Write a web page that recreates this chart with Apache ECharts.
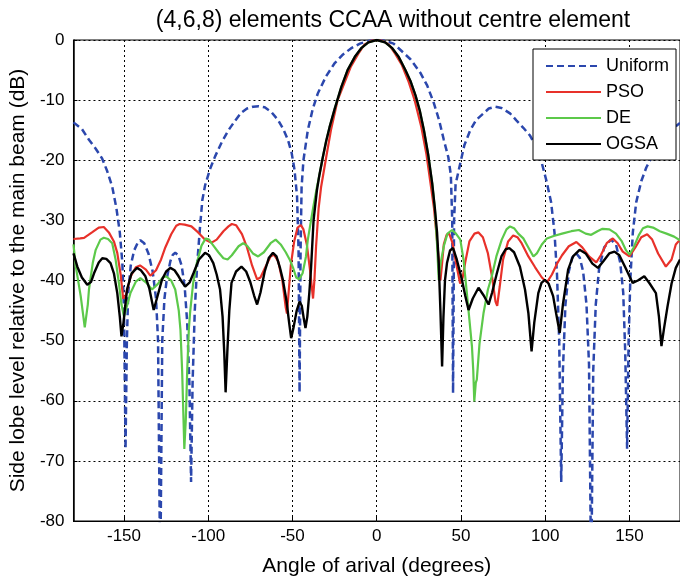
<!DOCTYPE html>
<html>
<head>
<meta charset="utf-8">
<script src="https://cdn.jsdelivr.net/npm/echarts@6/dist/echarts.min.js"></script>
<style>
html,body{margin:0;padding:0;background:#fff;}
#chart{width:680px;height:582px;}
</style>
</head>
<body>
<div id="chart"></div>
<script>
var titleText = '(4,6,8) elements CCAA without centre element';
var xName = 'Angle of arival (degrees)';
var yName = 'Side lobe level relative to the main beam (dB)';
var xTicks = [-150, -100, -50, 0, 50, 100, 150];
var seriesNames = ['Uniform', 'PSO', 'DE', 'OGSA'];

var uniformAngle = [-180,-175,-170.8,-167,-163,-160,-157,-154.5,-152.5,-151,-150,-149.1,-148.3,-147.5,-146,-144,-142,-140.3,-138,-135.5,-133,-131,-129.8,-128.5,-127.3,-126,-124.5,-122.5,-121,-119.6,-117.8,-115.8,-114,-112.5,-111.2,-110.2,-109.3,-108,-106.5,-105,-103.5,-101.9,-99,-96,-92,-88,-84,-80.5,-77,-73.4,-70,-66.5,-62.5,-58.6,-55.5,-52.7,-50.5,-48.8,-47.3,-46.4,-45.8,-45.2,-44.6,-43.5,-40.9,-38,-35,-30,-25.1,-20,-15.3,-10,-5,0,5,10,16.2,20,26,30,33.9,37,39.8,42.5,44,44.8,45.3,45.9,46.8,49.6,52,55.5,59,63.4,66.5,70.2,74,79.1,83,87,91,95,98,100.8,103.5,105.5,107,108.3,109.5,110.5,112,114,116,118.5,120.5,122.5,124.5,126,127.3,128.5,130,132,135,139,142,144.5,146.3,147.5,148.6,149.5,150.5,152,154,157,160,165,170,175,180];
var uniformDb = [-13.7,-14.8,-16.6,-18,-19.7,-21.8,-24.4,-28,-32,-37,-45,-68,-50,-42,-37.5,-35,-33.8,-33.3,-33.8,-35.5,-38.5,-43,-50,-90,-50,-43,-39.5,-36.8,-35.7,-35.4,-35.8,-37.5,-41,-47,-57,-73.5,-57,-45,-37,-31.5,-26.6,-24.2,-21.5,-19.4,-17,-15,-13.4,-12.1,-11.4,-11.1,-11,-11.2,-12,-13.3,-14.8,-16.6,-18.8,-21.6,-26,-35,-58.6,-35,-24.5,-20,-15,-11.5,-8.9,-6,-3.9,-2.4,-1.4,-0.6,-0.15,0,-0.15,-0.6,-2.2,-3.2,-5.5,-7.6,-10.5,-13.3,-16.6,-19.5,-22.5,-30,-58.7,-30,-24,-20.5,-17.5,-15,-13.3,-12.2,-11.4,-11.1,-11.3,-12.2,-13.4,-14.6,-15.9,-18,-20.5,-23.5,-27,-32,-39,-50,-73.5,-55,-44,-38.5,-36.2,-35.5,-36.2,-38.5,-44,-54,-90,-55,-44,-38,-34.5,-33.2,-34,-37,-42,-52,-68,-50,-40,-32,-27,-23.5,-21.2,-18.5,-16.4,-14.9,-13.8];

var psoAngle = [-180,-176,-173.7,-169,-165,-162,-159,-156,-154,-152,-150.5,-149,-146,-143,-140.5,-137,-134.4,-131,-128,-125.5,-122,-119,-117,-114,-110,-106,-102,-98,-95,-91,-88,-86,-83.5,-80,-77,-74,-71,-69,-66.5,-63,-61,-58.5,-56,-54,-53.3,-52.3,-51,-49,-47,-45,-43.5,-41.5,-39.5,-37.8,-37,-36,-34.5,-33,-30,-27.2,-23.2,-19,-15.3,-11,-7.4,-3.5,0,3.5,7.4,11,15,19,22.5,26.5,29.5,31.9,34,35.5,36.8,37.8,38.5,39.8,41.5,43,45,47,49.5,51,52.5,55,58,60.4,63,66,68.5,70.5,71.5,73,75,78,81,83.5,86,90,94,98,101,104,107,110,114,118.5,122,126,130.3,133,136.5,140.1,143,146,150,153.5,157,160.5,163.5,167,171.6,175,177.5,180];
var psoDb = [-33.1,-33,-32.9,-32,-31.2,-31.1,-32,-33.5,-35.4,-39,-43,-42.5,-39.3,-37.8,-37.5,-38.2,-39.2,-38.3,-36.5,-34.5,-32.3,-30.9,-30.6,-30.7,-31,-32,-33.2,-33.7,-33.2,-31.8,-31,-30.6,-30.8,-32.3,-34.5,-37.5,-39.8,-39.5,-38,-36,-35.7,-36.8,-40,-44.5,-45.5,-42,-37.5,-33.5,-31.2,-30.8,-31.5,-34,-38.5,-43,-40,-34.3,-28,-24.4,-19.5,-15,-10,-7,-4.4,-2.3,-0.8,-0.15,0,-0.15,-0.8,-2.3,-4.2,-7,-10,-14.5,-19,-23.8,-28,-32.5,-36.5,-40,-38,-34,-32.4,-32.2,-33.8,-37,-40.5,-39.5,-37,-33.5,-32.2,-32,-32.8,-35.5,-39.5,-43.5,-44.2,-41,-36.5,-33.5,-32.5,-32.8,-33.8,-36,-37.8,-39.5,-40.3,-39,-37.2,-35.8,-34.3,-33.6,-34.5,-36,-37,-35.8,-33.8,-33,-33.8,-35.2,-36,-34.5,-32.8,-32.3,-33.2,-35.5,-37.7,-36.5,-34,-33.2];

var deAngle = [-180,-178.6,-175.7,-173.3,-171.5,-170.8,-168.5,-166.8,-164,-162,-159.5,-157,-155,-153,-151.5,-150,-148.5,-146.2,-143,-140.3,-137,-133.4,-130,-127,-125,-122,-119.6,-117.5,-116.5,-115.5,-114.7,-114.2,-113.3,-112.5,-111.5,-110.8,-109,-106.8,-104,-101.5,-99.5,-97.5,-94,-91,-88.5,-86,-82,-79.3,-77,-73.5,-70.4,-67,-63,-60,-57,-54,-51.7,-49.5,-47.8,-46,-44,-42,-40.9,-39,-37.5,-35.5,-34,-32,-30,-28,-25,-21,-17.3,-13,-9,-5,0,5,9,13,17,20,23,25.5,28,30.5,32.9,34.5,35.8,36.8,38,39.8,42,44.7,47,49.6,51.5,53.5,55,56.5,57.3,57.9,58.8,59.4,61,63.4,66,68.3,71,74.2,77,79.1,81.5,84,87,90,93,95,98,101,105,110,115.5,120,124,127.3,131,134,138.1,142,145.5,148,150,152.5,155.5,158,160.8,164,168,172,176.5,180];
var deDb = [-34,-37.7,-42.6,-47.8,-44,-41.5,-37,-34.9,-33.2,-32.9,-33.1,-33.8,-36.5,-40.5,-44,-46,-44.5,-42.1,-40.2,-39.6,-40.3,-41.5,-40.6,-39.5,-39.3,-40,-41.5,-45,-48.2,-55,-63,-68,-63,-55,-48,-45.4,-40.5,-37.1,-34.2,-33,-33.2,-34,-35.3,-36.3,-36.5,-35.8,-34.3,-33.8,-34.2,-35.5,-36,-35.3,-33.8,-33.2,-34,-35.3,-36.5,-38,-39.5,-39.8,-38.8,-36,-33.2,-30,-27.5,-24.5,-22.4,-19.5,-16.8,-14.5,-11.5,-7.8,-5,-2.8,-1.3,-0.4,0,-0.4,-1.3,-2.8,-5,-6.8,-9.2,-11.7,-15,-19,-23.8,-28,-34,-39.9,-37,-34.3,-32.2,-31.6,-32.2,-33.2,-36.5,-42.1,-46.5,-50.9,-55,-60.1,-57,-56.5,-50.5,-45.4,-41.5,-39.3,-36,-33.2,-31.5,-31,-31.3,-32.2,-33,-34.5,-36,-35.5,-34,-33,-32.6,-32.2,-31.8,-31.6,-32.2,-32.4,-31.8,-31.4,-31.5,-32.2,-33.5,-35,-35.7,-34.5,-32.5,-31.3,-31,-31.2,-31.8,-32.2,-32.7,-33.3];

var ogsaAngle = [-180,-177.7,-175,-171.8,-169.5,-167.8,-165,-162.9,-160.5,-158,-156,-154,-152.5,-151.5,-150.3,-149,-148.2,-145.5,-142.3,-140,-137.3,-135,-132.4,-130.5,-127.5,-125,-122.5,-120,-117.6,-115.5,-113.7,-111,-108.8,-105.5,-101.9,-99.5,-97,-95,-93,-91.5,-90.5,-89.7,-88.7,-87.5,-86.2,-83.5,-80.3,-77.5,-75,-72.8,-71,-69,-66.5,-64,-61.6,-59.5,-57.5,-55.7,-53.5,-52,-50.8,-49.5,-47.5,-45.8,-44.5,-43.2,-42.3,-41.2,-40,-39,-37.5,-35.5,-34,-32,-30,-28,-25,-21,-17.3,-13,-9,-5,0,5,9,13,17,20,23,25.5,28,30.5,32.9,34.5,35.8,36.8,37.8,38.8,39.6,40.5,41.7,43.5,45.3,47.5,50.6,52.5,54.5,57,60.4,63.5,66.4,68.5,71.3,74,76.5,78.7,81.5,85,88,90,91.9,93.5,95.9,97.8,99.8,102,104.7,106.5,108.6,110.5,113.6,116.5,120.4,124,128,131.3,134.5,138,141.1,144,147.5,151.9,155,158.8,162,165.7,167.5,169,170.5,172.6,175,177.5,180];
var ogsaDb = [-35.5,-37.7,-39.5,-40.7,-40.2,-38.8,-37,-36.3,-36.4,-37.1,-38.8,-42.1,-46,-49.3,-47,-43.5,-41.5,-38.8,-37.9,-38.3,-39.3,-41.3,-44.9,-43,-39.9,-38.5,-37.9,-38.3,-39.3,-40.3,-41,-40.3,-38.8,-36.5,-35.4,-35.8,-37.1,-39,-41.5,-46,-52,-58.6,-52,-45,-40.4,-38.5,-37.7,-38.5,-40.3,-42.5,-44,-42,-38.5,-36.2,-35.4,-36,-37.8,-39.9,-43.5,-47,-49.6,-48,-45,-43.5,-44.2,-46.5,-47.9,-46,-42,-38,-30,-25,-22.4,-19.5,-16.8,-14.5,-11.5,-7.8,-5,-2.8,-1.3,-0.4,0,-0.4,-1.3,-2.8,-5,-6.8,-9.2,-11.7,-15,-19,-23.8,-28,-32,-37.1,-45,-54.3,-46,-40,-37.1,-35,-34.6,-36.5,-39.9,-42.5,-44.9,-43,-41.2,-42.5,-44,-42,-38.8,-36,-34.8,-34.6,-35.3,-37.7,-41.5,-45.4,-51.8,-47,-42.1,-40.4,-39.9,-40.5,-42.6,-45.5,-48.7,-44,-38.2,-36,-34.9,-35.5,-37.2,-37.9,-36.8,-35.5,-35.2,-35.8,-37.8,-40.4,-40,-39.3,-40.5,-42.1,-46,-50.9,-48,-44.3,-40.5,-37.9,-36.5];

function pairs(a, b) { return a.map(function (v, i) { return [v, b[i]]; }); }

var FONT = '"Liberation Sans", Arial, sans-serif';
var chart = echarts.init(document.getElementById('chart'), null, {renderer: 'canvas'});
chart.setOption({
  animation: false,
  backgroundColor: '#fff',
  graphic: [{
    type: 'text', x: 393, y: 9,
    style: {text: titleText, fill: '#000', font: '23px ' + FONT, textAlign: 'center', textVerticalAlign: 'top'}
  }],
  grid: {left: 73, top: 40, width: 611, height: 482, show: true, borderColor: '#000', borderWidth: 1, backgroundColor: 'transparent'},
  legend: {
    orient: 'vertical', left: 533, top: 49,
    backgroundColor: '#fff', borderColor: '#000', borderWidth: 1, borderRadius: 0,
    padding: [8, 7, 7, 12], itemWidth: 55, itemHeight: 16, itemGap: 8,
    itemStyle: {opacity: 0},
    textStyle: {fontFamily: FONT, fontSize: 18, color: '#000'},
    data: seriesNames
  },
  xAxis: {
    type: 'value', min: -180, max: 180,
    name: xName, nameLocation: 'middle', nameGap: 35,
    nameTextStyle: {fontFamily: FONT, fontSize: 21, color: '#000'},
    axisLine: {show: true, onZero: false, lineStyle: {color: '#000', width: 1}},
    axisTick: {show: true, inside: true, length: 4, customValues: xTicks, lineStyle: {color: '#000'}},
    axisLabel: {customValues: xTicks, fontFamily: FONT, fontSize: 17, color: '#000', margin: 7},
    splitLine: {show: true, lineStyle: {color: '#000', type: [2, 3], width: 1}}
  },
  yAxis: {
    type: 'value', min: -80, max: 0, interval: 10,
    name: yName, nameLocation: 'middle', nameGap: 43,
    nameTextStyle: {fontFamily: FONT, fontSize: 21, color: '#000'},
    axisLine: {show: true, onZero: false, lineStyle: {color: '#000', width: 1.5}},
    axisTick: {show: true, inside: true, length: 4, lineStyle: {color: '#000'}},
    axisLabel: {fontFamily: FONT, fontSize: 17, color: '#000', margin: 9},
    splitLine: {show: true, lineStyle: {color: '#000', type: [2, 3], width: 1}}
  },
  series: [
    {name: seriesNames[0], type: 'line', symbol: 'none', data: pairs(uniformAngle, uniformDb),
     lineStyle: {color: '#2b47ad', width: 2.5, type: [7, 4]}, itemStyle: {color: '#2b47ad'}},
    {name: seriesNames[1], type: 'line', symbol: 'none', data: pairs(psoAngle, psoDb),
     lineStyle: {color: '#e8312a', width: 2.2}, itemStyle: {color: '#e8312a'}},
    {name: seriesNames[2], type: 'line', symbol: 'none', data: pairs(deAngle, deDb),
     lineStyle: {color: '#5cc94a', width: 2.2}, itemStyle: {color: '#5cc94a'}},
    {name: seriesNames[3], type: 'line', symbol: 'none', data: pairs(ogsaAngle, ogsaDb),
     lineStyle: {color: '#000', width: 2.4}, itemStyle: {color: '#000'}}
  ]
});
</script>
</body>
</html>
